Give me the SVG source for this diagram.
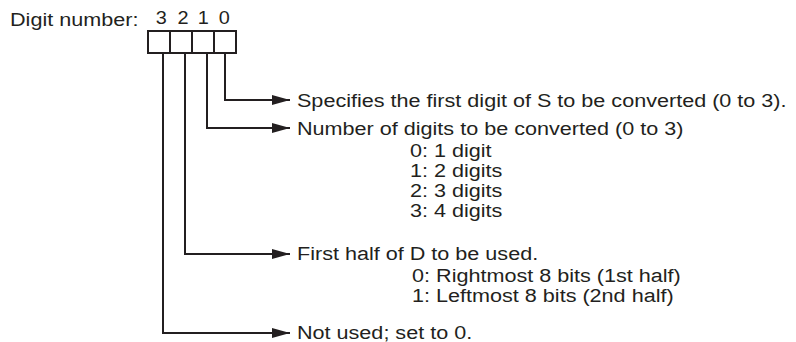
<svg xmlns="http://www.w3.org/2000/svg" width="796" height="342" viewBox="0 0 796 342">
<style>
  text { font-family: "Liberation Sans", Arial, Helvetica, sans-serif; fill: #231f20; font-size: 19px; }
  .digit { font-size: 17.5px; text-anchor: middle; }
  .box { fill: none; stroke: #231f20; stroke-width: 2; }
  .conn { fill: none; stroke: #231f20; stroke-width: 2; }
</style>
<defs>
  <marker id="arrow" markerUnits="userSpaceOnUse" markerWidth="18" markerHeight="12" refX="18" refY="5" orient="auto">
    <path d="M0,0 L18,5 L0,10 Z" fill="#231f20"/>
  </marker>
</defs>
<g id="label-digit-number" transform="scale(1.137 1)">
  <text x="8.8" y="26">Digit number:</text>
</g>
<g id="register">
  <g transform="scale(1.137 1)">
    <text class="digit" x="141.9" y="24.5">3</text>
    <text class="digit" x="161" y="24.5">2</text>
    <text class="digit" x="178.8" y="24.5">1</text>
    <text class="digit" x="197.3" y="24.5">0</text>
  </g>
  <rect class="box" x="148" y="31" width="88" height="22"/>
  <line class="box" x1="170" y1="31" x2="170" y2="53"/>
  <line class="box" x1="192" y1="31" x2="192" y2="53"/>
  <line class="box" x1="214" y1="31" x2="214" y2="53"/>
</g>
<g id="connectors">
  <path class="conn" d="M225,53 V100 H290" marker-end="url(#arrow)"/>
  <path class="conn" d="M207,53 V128 H290" marker-end="url(#arrow)"/>
  <path class="conn" d="M185,53 V254 H290" marker-end="url(#arrow)"/>
  <path class="conn" d="M163,53 V333 H290" marker-end="url(#arrow)"/>
</g>
<g id="desc-digit0" transform="scale(1.137 1)">
  <text x="261.2" y="107">Specifies the first digit of S to be converted (0 to 3).</text>
</g>
<g id="desc-digit1" transform="scale(1.137 1)">
  <text x="261.2" y="135">Number of digits to be converted (0 to 3)</text>
  <text x="360.6" y="157">0: 1 digit</text>
  <text x="360.6" y="177">1: 2 digits</text>
  <text x="360.6" y="197">2: 3 digits</text>
  <text x="360.6" y="217">3: 4 digits</text>
</g>
<g id="desc-digit2" transform="scale(1.137 1)">
  <text x="261.2" y="260.5">First half of D to be used.</text>
  <text x="362.4" y="282">0: Rightmost 8 bits (1st half)</text>
  <text x="362.4" y="302">1: Leftmost 8 bits (2nd half)</text>
</g>
<g id="desc-digit3" transform="scale(1.137 1)">
  <text x="261.2" y="339.5">Not used; set to 0.</text>
</g>
</svg>
